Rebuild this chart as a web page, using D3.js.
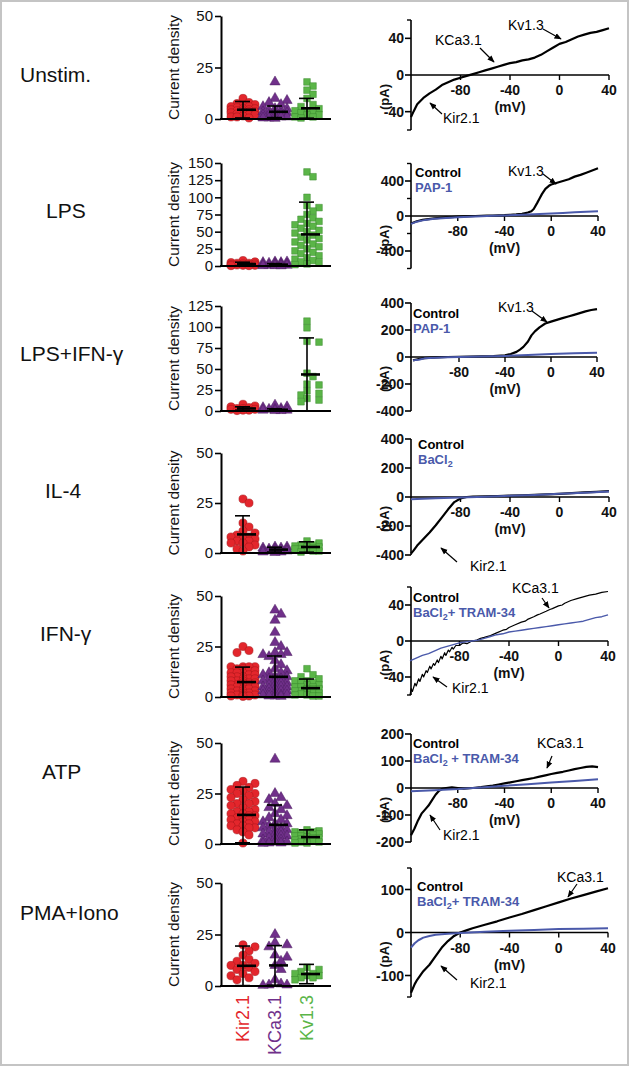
<!DOCTYPE html>
<html><head><meta charset="utf-8">
<script src="https://cdn.jsdelivr.net/npm/d3@7"></script>
<style>
body{margin:0;background:#fff;}
svg{display:block;font-family:"Liberation Sans",Arial,sans-serif;}
</style></head>
<body><svg id="fig" width="630" height="1067"></svg>
<script>
// ---------------- DATA ----------------
const rowNames = ["Unstim.", "LPS", "LPS+IFN-\u03B3", "IL-4", "IFN-\u03B3", "ATP", "PMA+Iono"];
const channels = ["Kir2.1", "KCa3.1", "Kv1.3"];
const scatterTicks = [[0,25,50],[0,25,50,75,100,125,150],[0,25,50,75,100,125],[0,25,50],[0,25,50],[0,25,50],[0,25,50]];

const unstimKir = [10,8,7.5,7,6.5,6,6,5.5,5,5,4.5,4.5,4,4,3.5,3.5,3,3,2.5,2,2,1.5,1,1,0.5];
const unstimKCa = [18,10,9,8,7,6,5,5,4,4,3.5,3,3,2.5,2,2,1.5,1,1,0.5,0.5,0.3];
const unstimKv  = [18,16,14,12,10,7,6,5,4,4,3,3,2,2,1,1,0.5];
const lpsKir = [8,6,5,4,4,3,3,2,2,1.5,1,1,0.5,0.5];
const lpsKCa = [6,6,5,5,4,4,3,3,2,2,1,1,1,0.5,0.5,0.3];
const lpsKv  = [137,130,100,88,85,80,75,70,68,65,62,60,58,55,52,50,48,45,42,40,38,35,32,30,28,25,22,20,18,15,12,10,8,6,5,3,2];
const lpsIfnKir = [8,6,5,4,3,3,2,2,1,1,0.5];
const lpsIfnKCa = [7,5,4,3,2,2,1,1,0.5,0.5];
const lpsIfnKv  = [107,99,83,82,45,41,32,31,24,21,19,15,13,11];
const il4Kir = [27,25,15,13,11,10,9,8,8,7,7,6,6,5,5,4,3,2,1];
const il4KCa = [3,3,2.5,2.5,2,2,2,1.5,1.5,1,1,1,0.5,0.5,0.3];
const il4Kv  = [6,5,4,4,3.5,3,3,2.5,2,2,1.5,1,1,0.5];
const ifnKir = [25,23,22,15,15,15,15,14,14,13,13,12,12,12,11,11,10,10,10,9,9,9,8,8,8,7,7,7,6,6,6,5,5,5,5,4,4,4,3,3,3,2,2,2,1,1,1,0.5,0.5,0.3];
const ifnKCa = [43,41,38,32,27,25,22,22,21,21,20,18,16,14,13,12,12,11,10,10,9,9,8,8,7,7,6,6,5,5,5,4,4,3,3,3,2,2,1,1,1,0.5,0.5,0.3];
const ifnKv  = [14,11,10,9,8,8,7,7,6,6,5,5,5,4,4,4,3,3,3,2,2,2,1.5,1,1,0.5,0.5];
const atpKir = [31,30,29,28,27,26,25,25,24,23,22,21,20,20,19,18,17,16,16,15,15,14,14,13,13,12,12,11,11,10,10,9,9,8,8,7,6,4.5,0.5];
const atpKCa = [42,25,23,22,20,19,18,17,15,14,13,12,11,10,10,9,8,8,7,7,6,6,5,5,4,4,3,3,2,2,1,1,0.5,0.5,0.3];
const atpKv  = [7,6.5,6,6,5.5,5,5,4.5,4,4,3.5,3,3,2.5,2,2,1.5,1,1,0.5,0.5];
const pmaKir = [20,19,17,15,13,12,11,10,10,9,8,7,6,5,4,3];
const pmaKCa = [25,21,20,19,15,14,12,10,8,3,1,0.5,0.5,0.3];
const pmaKv  = [9,8,7,6,6,5,5,4,4,3];

const means = [[4.5,3.5,5.2],[3,2,46],[3,1.5,43.5],[9.3,1.7,3],[7.4,10,4.4],[14.4,9.5,3.4],[9.8,10,5.8]];
const sds   = [[4,2.8,4.8],[2.5,1.5,47],[2,1.2,43.5],[9.3,1.2,2.6],[7.4,10.3,4.5],[13.8,9.8,3.6],[9.6,9.6,4.7]];

// IV traces: [mV, pA]
const ivUnstimCtrl = [[-120,-46],[-118,-40],[-115,-32],[-110,-25],[-105,-20],[-100,-16],[-95,-11],[-90,-8],[-85,-5],[-80,-3],[-75,-1],[-70,1],[-65,3],[-60,5],[-55,7],[-50,9],[-45,11],[-40,13],[-35,14],[-30,16],[-25,17],[-20,19],[-15,22],[-10,26],[-5,30],[0,34],[5,36],[10,39],[15,42],[20,44],[25,46],[30,47],[35,49],[40,51]];
const ivLpsCtrl = [[-120,-85],[-115,-60],[-110,-45],[-105,-35],[-100,-28],[-95,-22],[-90,-16],[-85,-12],[-80,-8],[-75,-5],[-70,-2],[-65,0],[-60,2],[-55,4],[-50,6],[-45,8],[-40,10],[-35,14],[-30,18],[-25,25],[-20,40],[-17,55],[-15,80],[-12,150],[-10,200],[-8,250],[-5,310],[-2,345],[0,360],[5,380],[10,400],[15,420],[20,450],[25,470],[30,495],[35,520],[40,545]];
const ivLpsDrug = [[-120,-90],[-115,-65],[-110,-50],[-105,-40],[-100,-32],[-90,-22],[-80,-14],[-70,-8],[-60,-3],[-50,2],[-40,6],[-30,12],[-20,17],[-10,22],[0,28],[10,35],[20,42],[30,48],[40,55]];
const ivLpsIfnCtrl = [[-120,-25],[-115,-15],[-110,-8],[-100,-3],[-90,0],[-80,2],[-70,3],[-60,5],[-50,7],[-40,12],[-35,22],[-30,38],[-27,55],[-24,75],[-20,115],[-17,160],[-14,190],[-10,220],[-5,248],[0,262],[5,275],[10,288],[15,300],[20,312],[25,325],[30,338],[35,348],[40,355]];
const ivLpsIfnDrug = [[-120,-25],[-115,-20],[-110,-10],[-100,-5],[-90,-2],[-80,0],[-60,3],[-40,8],[-20,15],[0,22],[20,28],[40,32]];
const ivIl4Ctrl = [[-120,-390],[-118,-370],[-115,-335],[-110,-290],[-105,-245],[-100,-195],[-95,-140],[-90,-85],[-85,-35],[-80,-10],[-75,0],[-70,3],[-60,5],[-50,7],[-40,9],[-30,12],[-20,15],[-10,18],[0,22],[10,27],[20,32],[30,36],[40,40]];
const ivIl4Drug = [[-120,-15],[-100,-8],[-80,-3],[-60,2],[-40,8],[-20,14],[0,22],[20,30],[40,38]];
const ivIfnCtrl = [[-120,-60],[-119,-53],[-118,-56],[-116,-47],[-115,-50],[-113,-42],[-112,-45],[-110,-37],[-109,-40],[-107,-33],[-106,-35],[-104,-28],[-103,-31],[-101,-25],[-100,-27],[-98,-21],[-97,-24],[-95,-17],[-94,-20],[-92,-13],[-91,-16],[-89,-10],[-88,-12],[-86,-7],[-85,-9],[-83,-5],[-80,-5],[-77,-2],[-74,-3],[-70,0],[-66,1],[-63,3],[-60,4],[-55,6],[-50,9],[-45,12],[-42,13],[-40,15],[-35,18],[-30,21],[-27,22],[-25,24],[-20,27],[-17,29],[-15,30],[-10,33],[-7,35],[-5,36],[0,39],[3,40],[5,42],[10,45],[15,47],[20,49],[25,51],[30,52],[35,54],[40,55]];
const ivIfnDrug = [[-120,-22],[-115,-19],[-110,-16],[-105,-14],[-100,-11],[-95,-8],[-90,-6],[-85,-4],[-80,-2],[-75,-1],[-70,0],[-65,1],[-60,3],[-55,5],[-50,7],[-45,8],[-40,10],[-35,11],[-30,12],[-25,13],[-20,14],[-15,15],[-10,16],[-5,17],[0,18],[5,19],[10,20],[15,21],[20,22],[25,24],[30,26],[35,27],[40,29]];
const ivAtpCtrl = [[-120,-175],[-117,-150],[-114,-120],[-111,-95],[-108,-80],[-105,-65],[-102,-45],[-99,-25],[-96,-10],[-93,-3],[-90,0],[-85,2],[-80,0],[-75,-2],[-70,-1],[-65,1],[-60,3],[-55,6],[-50,9],[-45,13],[-40,17],[-35,21],[-30,25],[-25,29],[-20,33],[-15,37],[-10,42],[-5,47],[0,52],[5,56],[10,60],[15,65],[20,70],[25,74],[30,78],[35,80],[40,77]];
const ivAtpDrug = [[-120,-12],[-100,-8],[-80,-4],[-60,2],[-40,8],[-20,14],[0,20],[20,26],[40,32]];
const ivPmaCtrl = [[-120,-140],[-117,-120],[-115,-110],[-110,-90],[-105,-75],[-100,-55],[-95,-35],[-90,-20],[-85,-8],[-80,0],[-75,5],[-70,10],[-60,18],[-50,26],[-40,35],[-30,43],[-20,52],[-10,61],[0,70],[10,79],[20,87],[30,95],[40,103]];
const ivPmaDrug = [[-120,-35],[-117,-25],[-114,-18],[-110,-12],[-105,-8],[-100,-5],[-90,-3],[-80,-1],[-60,2],[-40,4],[-20,6],[0,8],[20,9],[40,10]];

const ivXTicks = [-80,-40,0,40];
const ivYTicks = [[-40,0,40],[-400,0,400],[-400,-200,0,200,400],[-400,-200,0,200,400],[-40,0,40],[-200,-100,0,100,200],[-100,0,100]];
const ivYMinor = [[-60,60],[-600,-200,200,600],[],[],[-60,60],[],[-150,150]];
const ivYDomain = [[-60,60],[-600,600],[-400,400],[-400,400],[-60,60],[-200,200],[-150,150]];
const drugLabels = [null,"PAP-1","PAP-1","BaCl2","BaCl2+ TRAM-34","BaCl2 + TRAM-34","BaCl2+ TRAM-34"];

// ---------------- LAYOUT ----------------
const svg = d3.select("#fig");
const W = 630, H = 1067;
svg.append("rect").attr("x",1).attr("y",1).attr("width",W-3).attr("height",H-3)
  .attr("fill","#fff").attr("stroke","#c4c4c4").attr("stroke-width",2);

const colors = ["#e3262c","#70308a","#5bb548"];
const strokes = ["#a3171b","#4b1c5e","#3d8a30"];
const scatterRows = [
  [unstimKir,unstimKCa,unstimKv],[lpsKir,lpsKCa,lpsKv],[lpsIfnKir,lpsIfnKCa,lpsIfnKv],
  [il4Kir,il4KCa,il4Kv],[ifnKir,ifnKCa,ifnKv],[atpKir,atpKCa,atpKv],[pmaKir,pmaKCa,pmaKv]];
const scatterY = [[119,16],[266,163],[411,306],[553,453],[697,596],[844,743],[986,883]];
const labelPos = [[20,75],[46,211],[20,354],[45,491],[40,634],[42,772],[20,913]];
const ivX = [[411,609],[411,598],[413,597],[411,609],[410,608],[411,598],[411,608]];
const ivY = [[130,20],[268.5,163.5],[411,303],[555,439],[695,587],[842,734],[997,868]];
const ivCtrl = [ivUnstimCtrl,ivLpsCtrl,ivLpsIfnCtrl,ivIl4Ctrl,ivIfnCtrl,ivAtpCtrl,ivPmaCtrl];
const ivDrug = [null,ivLpsDrug,ivLpsIfnDrug,ivIl4Drug,ivIfnDrug,ivAtpDrug,ivPmaDrug];
const xAxis0 = 221, xAxis1 = 331;
const colX = d3.scalePoint().domain(channels).range([243,307]);
const blue = "#4a59aa";

svg.append("defs").append("marker").attr("id","ah").attr("viewBox","0 0 10 10")
  .attr("refX",9).attr("refY",5).attr("markerWidth",6).attr("markerHeight",6).attr("orient","auto")
  .append("path").attr("d","M0,1 L10,5 L0,9 Z").attr("fill","#000");

rowNames.forEach((n,i)=>{
  svg.append("text").attr("x",labelPos[i][0]).attr("y",labelPos[i][1]).attr("dy","0.35em")
    .attr("font-size",21).attr("fill","#111").text(n);
});

function swarm(vals, yScale, diam, step, maxOff){
  const idx = vals.map((v,i)=>i).sort((a,b)=>vals[b]-vals[a]);
  const placed = [];
  const out = new Array(vals.length);
  const cands = [0];
  for(let k=step;k<=maxOff+0.01;k+=step){cands.push(k,-k);}
  idx.forEach(i=>{
    const py = yScale(vals[i]);
    let best=null,bestD=-1;
    for(const c of cands){
      let md = Infinity;
      for(const p of placed){const d=Math.hypot(p[0]-c,p[1]-py); if(d<md) md=d;}
      if(md>=diam){best=c;bestD=md;break;}
      if(md>bestD){bestD=md;best=c;}
    }
    placed.push([best,py]);
    out[i]=[best,py];
  });
  return out;
}

const symbols = [d3.symbol().type(d3.symbolCircle).size(52),
                 d3.symbol().type(d3.symbolTriangle).size(46),
                 d3.symbol().type(d3.symbolSquare).size(44)];

scatterRows.forEach((row,r)=>{
  const ticks = scatterTicks[r];
  const y = d3.scaleLinear().domain([0,ticks[ticks.length-1]]).range(scatterY[r]);
  const g = svg.append("g");
  row.forEach((vals,c)=>{
    const cx = colX(channels[c]);
    const pos = swarm(vals,y,6.6,6,15);
    g.selectAll(null).data(vals).enter().append("path")
      .attr("d",symbols[c]).attr("transform",(d,i)=>`translate(${cx+pos[i][0]},${pos[i][1]})`)
      .attr("fill",colors[c]).attr("stroke",strokes[c]).attr("stroke-width",0.5);
  });
  row.forEach((vals,c)=>{
    const cx = colX(channels[c]);
    const m = means[r][c], s = sds[r][c];
    const hi = y(m+s), lo = y(Math.max(0,m-s));
    g.append("line").attr("x1",cx).attr("x2",cx).attr("y1",hi).attr("y2",lo).attr("stroke","#000").attr("stroke-width",1.6);
    [hi,lo].forEach(yy=>g.append("line").attr("x1",cx-8).attr("x2",cx+7).attr("y1",yy).attr("y2",yy).attr("stroke","#000").attr("stroke-width",1.6));
    g.append("line").attr("x1",cx-6).attr("x2",cx+13).attr("y1",y(m)).attr("y2",y(m)).attr("stroke","#000").attr("stroke-width",2.6);
  });
  const ax = g.append("g").attr("transform",`translate(${xAxis0},0)`)
    .call(d3.axisLeft(y).tickValues(ticks).tickSize(6).tickSizeOuter(0).tickPadding(2));
  ax.select(".domain").attr("stroke-width",2);
  ax.selectAll(".tick line").attr("stroke-width",1.6);
  ax.selectAll("text").attr("font-size",15).attr("font-family","'Liberation Sans',Arial,sans-serif").attr("fill","#111");
  g.append("line").attr("x1",xAxis0-1).attr("x2",xAxis1).attr("y1",y(0)).attr("y2",y(0)).attr("stroke","#000").attr("stroke-width",2);
  const midY = (scatterY[r][0]+scatterY[r][1])/2;
  g.append("text").attr("transform",`translate(174,${midY}) rotate(-90)`).attr("text-anchor","middle")
    .attr("dy","0.35em").attr("font-size",15.5).attr("fill","#111").text("Current density");
});

channels.forEach((c,i)=>{
  svg.append("text").attr("transform",`translate(${colX(c)},995) rotate(-90)`)
    .attr("text-anchor","end").attr("dy","0.35em").attr("font-size",18).attr("fill",colors[i]).text(c);
});

const lineGen = (x,y)=>d3.line().x(d=>x(d[0])).y(d=>y(d[1]));
ivCtrl.forEach((ctrl,r)=>{
  const x = d3.scaleLinear().domain([-120,40]).range(ivX[r]);
  const y = d3.scaleLinear().domain(ivYDomain[r]).range(ivY[r]);
  const g = svg.append("g");
  const z = y(0);
  g.append("line").attr("x1",411).attr("x2",411).attr("y1",ivY[r][1]).attr("y2",ivY[r][0]).attr("stroke","#000").attr("stroke-width",1.6);
  ivYTicks[r].forEach(t=>{
    g.append("line").attr("x1",405).attr("x2",411).attr("y1",y(t)).attr("y2",y(t)).attr("stroke","#000").attr("stroke-width",1.6);
    g.append("text").attr("x",404).attr("y",y(t)).attr("dy","0.36em").attr("text-anchor","end")
      .attr("font-size",14).attr("font-weight","bold").attr("fill","#111").text(t);
  });
  ivYMinor[r].forEach(t=>{
    g.append("line").attr("x1",407).attr("x2",411).attr("y1",y(t)).attr("y2",y(t)).attr("stroke","#000").attr("stroke-width",1.4);
  });
  g.append("text").attr("transform",`translate(384,${z+22}) rotate(-90)`).attr("text-anchor","middle")
    .attr("dy","0.35em").attr("font-size",13).attr("font-weight","bold").attr("fill","#111").text("(pA)");
  g.append("line").attr("x1",411).attr("x2",x(40)).attr("y1",z).attr("y2",z).attr("stroke","#000").attr("stroke-width",1.4);
  ivXTicks.forEach(t=>{
    g.append("line").attr("x1",x(t)).attr("x2",x(t)).attr("y1",z).attr("y2",z+5).attr("stroke","#000").attr("stroke-width",1.4);
    g.append("text").attr("x",x(t)).attr("y",z+20).attr("text-anchor","middle")
      .attr("font-size",14).attr("font-weight","bold").attr("fill","#111").text(t);
  });
  g.append("text").attr("x",x(-40)).attr("y",z+37).attr("text-anchor","middle")
    .attr("font-size",14).attr("font-weight","bold").attr("fill","#111").text("(mV)");
  g.append("path").datum(ctrl).attr("d",lineGen(x,y)).attr("fill","none")
    .attr("stroke","#000").attr("stroke-width",r===4?1.2:2.2).attr("stroke-linejoin","round");
  if(ivDrug[r]){
    g.append("path").datum(ivDrug[r]).attr("d",lineGen(x,y)).attr("fill","none")
      .attr("stroke",blue).attr("stroke-width",r===4?1.4:2).attr("stroke-linejoin","round");
  }
});

const legendPos = [null,[415,177],[413,318],[418,449],[413,602],[413,748],[417,891]];
drugLabels.forEach((lab,r)=>{
  if(!lab) return;
  const [lx,ly] = legendPos[r];
  svg.append("text").attr("x",lx).attr("y",ly).attr("font-size",13).attr("font-weight","bold").attr("fill","#000").text("Control");
  const t = svg.append("text").attr("x",lx).attr("y",ly+14.5).attr("font-size",13).attr("font-weight","bold").attr("fill",blue);
  if(lab.startsWith("BaCl2")){
    t.append("tspan").text("BaCl");
    t.append("tspan").attr("font-size",9).attr("dy",3).text("2");
    t.append("tspan").attr("dy",-3).text(lab.slice(5));
  } else t.text(lab);
});

const notes = [
  ["Kv1.3",508,30,543,29,561,39],["KCa3.1",435,45,480,48,494,62],["Kir2.1",443,123,442,114,430,103],
  ["Kv1.3",508,176,543,174,556,184],
  ["Kv1.3",498,312,532,311,547,322],
  ["Kir2.1",470,571,457,562,441,548],
  ["KCa3.1",512,593,542,598,549,608],["Kir2.1",452,693,447,687,433,677],
  ["KCa3.1",537,748,552,756,547,768],["Kir2.1",443,840,440,830,430,815],
  ["KCa3.1",557,882,577,884,568,897],["Kir2.1",470,988,457,980,441,966]
];
notes.forEach(n=>{
  svg.append("text").attr("x",n[1]).attr("y",n[2]).attr("font-size",14).attr("fill","#000").text(n[0]);
  svg.append("line").attr("x1",n[3]).attr("y1",n[4]).attr("x2",n[5]).attr("y2",n[6])
    .attr("stroke","#000").attr("stroke-width",1.2).attr("marker-end","url(#ah)");
});
</script></body></html>
